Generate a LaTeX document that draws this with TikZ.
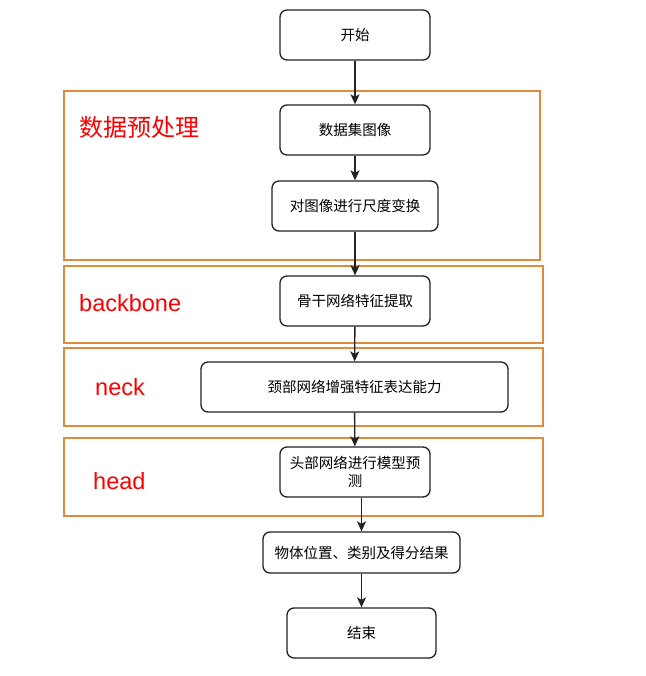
\documentclass[tikz,border=0pt]{standalone}
\usepackage{fontspec}
\setmainfont{Liberation Sans}
\newfontfamily\cjk{Noto Sans CJK SC}
\usetikzlibrary{arrows.meta}
\definecolor{grporange}{HTML}{E08A3C}
\definecolor{boxline}{HTML}{222222}
\tikzset{
  stepbox/.style={draw=boxline, line width=1.3pt, rounded corners=7pt, fill=white,
    inner sep=0pt, align=center, font=\cjk\fontsize{14.5}{18}\selectfont},
  grp/.style={draw=grporange, line width=1.3pt, inner sep=0pt},
  grplabel/.style={text=red, inner sep=0pt, anchor=west},
  flow/.style={draw=boxline, line width=1.4pt, -{Stealth[length=10pt,width=9pt,inset=2.5pt]}}
}
\begin{document}
\begin{tikzpicture}[x=1pt,y=-1pt]
\useasboundingbox (0,0) rectangle (645,676);
% group frames
\node[grp, minimum width=476pt, minimum height=169pt] (g1) at (302,175.5) {};
\node[grp, minimum width=479pt, minimum height=77pt] (g2) at (303.5,304.5) {};
\node[grp, minimum width=479pt, minimum height=78pt] (g3) at (303.5,387) {};
\node[grp, minimum width=479pt, minimum height=78pt] (g4) at (303.5,477) {};
% group labels
\node[grplabel, font=\cjk\fontsize{24}{28}\selectfont] (l1) at (79,127) {数据预处理};
\node[grplabel, font=\fontsize{23.5}{28}\selectfont] (l2) at (79,303) {backbone};
\node[grplabel, font=\fontsize{23.5}{28}\selectfont] (l3) at (95,387) {neck};
\node[grplabel, font=\fontsize{23.5}{28}\selectfont] (l4) at (93,481) {head};
% steps
\node[stepbox, minimum width=150pt, minimum height=50pt] (start) at (355,35) {开始};
\node[stepbox, minimum width=150pt, minimum height=50pt] (ds) at (355,130) {数据集图像};
\node[stepbox, minimum width=166pt, minimum height=50pt] (scale) at (355,206) {对图像进行尺度变换};
\node[stepbox, minimum width=150pt, minimum height=50pt] (bb) at (355,301) {骨干网络特征提取};
\node[stepbox, minimum width=307pt, minimum height=50pt] (neck) at (354.5,387) {颈部网络增强特征表达能力};
\node[stepbox, minimum width=150pt, minimum height=50pt] (head) at (355,472) {头部网络进行模型预\\测};
\node[stepbox, minimum width=197pt, minimum height=41pt] (res) at (361.5,552.5) {物体位置、类别及得分结果};
\node[stepbox, minimum width=149pt, minimum height=50pt] (end) at (361.5,633) {结束};
% connectors
\draw[flow] (start) -- (ds);
\draw[flow] (ds) -- (scale);
\draw[flow] (scale) -- (bb);
\draw[flow] (bb) -- (neck);
\draw[flow] (neck) -- (head);
\draw[flow] (head.south -| res.north) -- (res.north);
\draw[flow] (res) -- (end);
\end{tikzpicture}
\end{document}
